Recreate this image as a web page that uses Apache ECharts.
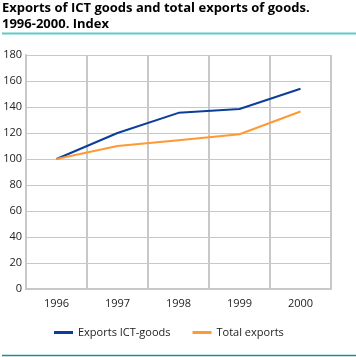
<!DOCTYPE html>
<html><head><meta charset="utf-8">
<script src="https://cdn.jsdelivr.net/npm/echarts@6/dist/echarts.min.js"></script>
<style>html,body{margin:0;padding:0;background:#fff}#c{width:356px;height:357px}</style>
</head><body><div id="c"></div>
<script>
var categories = ['1996','1997','1998','1999','2000'];
var ictExports = [100, 120, 135.5, 138.5, 154];
var totalExports = [100, 110, 114.5, 119, 136.5];
var seriesNames = ['Exports ICT-goods', 'Total exports'];
var titleLines = ['Exports of ICT goods and total exports of goods.', '1996-2000. Index'];

var chart = echarts.init(document.getElementById('c'));
var gridColor = '#c8c8c8';
chart.setOption({
  animation: false,
  textStyle: {fontFamily: 'Open Sans'},
  title: {
    text: titleLines.join('\n'), left: 2, top: 0, padding: [1, 0, 0, 0],
    textStyle: {fontFamily: 'Open Sans', fontWeight: 'bold', fontSize: 13, lineHeight: 15.5, color: '#000'}
  },
  graphic: [
    {type: 'line', shape: {x1: 2, y1: 33.5, x2: 356, y2: 33.5}, style: {stroke: '#5fc9c9', lineWidth: 2}},
    {type: 'line', shape: {x1: 2, y1: 355.5, x2: 356, y2: 355.5}, style: {stroke: '#0a9696', lineWidth: 1.5}}
  ],
  legend: {
    top: 327, left: 54, itemGap: 22, itemWidth: 19, itemHeight: 3,
    icon: 'rect', padding: 0,
    textStyle: {fontSize: 11, color: '#222', fontFamily: 'Open Sans'},
    data: seriesNames
  },
  grid: {left: 26, right: 25, top: 55, bottom: 68},
  xAxis: {
    type: 'category', data: categories, boundaryGap: true,
    axisLine: {lineStyle: {color: gridColor, width: 2}},
    axisTick: {show: false},
    axisLabel: {color: '#222', fontSize: 11, margin: 9},
    splitLine: {show: true, lineStyle: {color: gridColor, width: 2}}
  },
  yAxis: {
    type: 'value', min: 0, max: 180, interval: 20,
    axisLine: {show: true, lineStyle: {color: gridColor, width: 2}},
    axisTick: {show: false},
    axisLabel: {color: '#222', fontSize: 11, margin: 4},
    splitLine: {show: true, lineStyle: {color: gridColor, width: 1}}
  },
  series: [
    {name: seriesNames[0], type: 'line', data: ictExports, symbol: 'none', color: '#0a3e9a', lineStyle: {width: 2}},
    {name: seriesNames[1], type: 'line', data: totalExports, symbol: 'none', color: '#ff9933', lineStyle: {width: 2}}
  ]
});
</script></body></html>
